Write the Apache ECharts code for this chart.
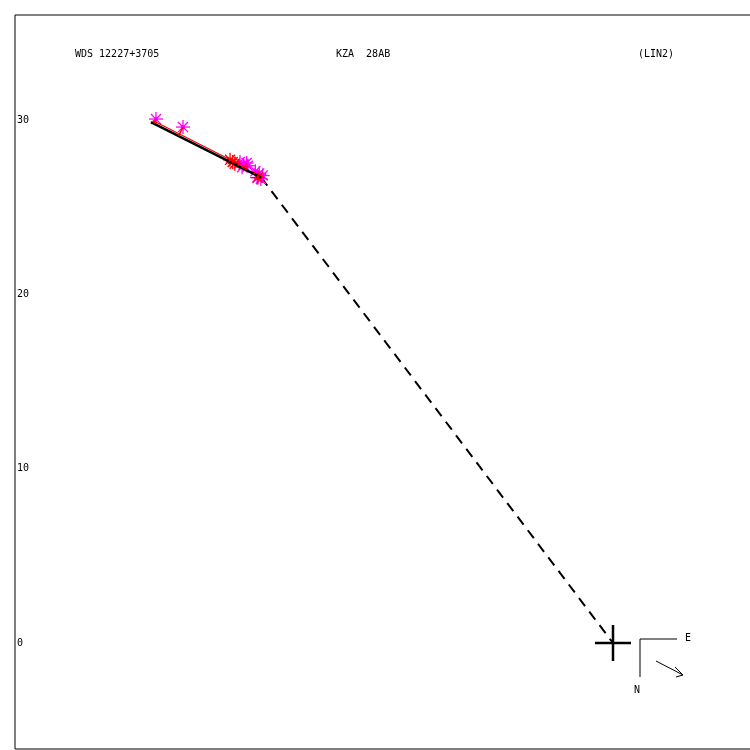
<!DOCTYPE html>
<html>
<head>
<meta charset="utf-8">
<script src="https://cdn.jsdelivr.net/npm/echarts@6/dist/echarts.min.js"></script>
<style>
html,body{margin:0;padding:0;background:#fff;}
#chart{width:750px;height:750px;}
</style>
</head>
<body>
<div id="chart"></div>
<script>
// ---- data (offsets relative to primary, same scale on both axes) ----
const magentaX = [-26.22, -24.67, -21.40, -21.20, -21.02, -21.28, -20.95, -20.52, -20.30, -20.10, -20.42, -20.20];
const magentaY = [30.06, 29.60, 27.60, 27.44, 27.54, 27.30, 27.38, 27.06, 26.94, 26.82, 26.70, 26.62];
const redX = [-21.97, -21.82, -21.70, -20.37];
const redY = [27.72, 27.60, 27.50, 26.70];
const fitX = [-26.51, -20.18];
const fitY = [29.89, 26.70];
const redPathX = [-26.40, -21.90];
const redPathY = [29.98, 27.70];
const primaryX = [0];
const primaryY = [0];
const yTickValues = [0, 10, 20, 30];
const titleLeft = 'WDS 12227+3705';
const titleMid = 'KZA  28AB';
const titleRight = '(LIN2)';

const FONT = '"DejaVu Sans Mono", monospace';
const zip = (a, b) => a.map((v, i) => [v, b[i]]);

// residuals: observation -> projection on fit line
function project(px, py) {
  const dx = fitX[1] - fitX[0], dy = fitY[1] - fitY[0];
  const t = ((px - fitX[0]) * dx + (py - fitY[0]) * dy) / (dx * dx + dy * dy);
  return [fitX[0] + t * dx, fitY[0] + t * dy];
}
const residualLines = [];
magentaX.forEach((x, i) => {
  residualLines.push([{ coord: [x, magentaY[i]] }, { coord: project(x, magentaY[i]) }]);
});
redX.forEach((x, i) => {
  residualLines.push([{ coord: [x, redY[i]] }, { coord: project(x, redY[i]) }]);
});

function asterisk(color, r) {
  return function (params, api) {
    const c = api.coord([api.value(0), api.value(1)]);
    const d = r * 0.72;
    const segs = [
      [c[0] - r, c[1], c[0] + r, c[1]],
      [c[0], c[1] - r, c[0], c[1] + r],
      [c[0] - d, c[1] - d, c[0] + d, c[1] + d],
      [c[0] - d, c[1] + d, c[0] + d, c[1] - d]
    ];
    return {
      type: 'group',
      children: segs.map(s => ({
        type: 'line',
        shape: { x1: s[0], y1: s[1], x2: s[2], y2: s[3] },
        style: { stroke: color, lineWidth: 1.3 }
      })).concat([{ type: 'circle', shape: { cx: c[0], cy: c[1], r: 2 }, style: { fill: color } }])
    };
  };
}

const chart = echarts.init(document.getElementById('chart'), null, { renderer: 'canvas' });
const PX = 17.43;
const gridLeft = 15, gridTop = 15, gridW = 740, gridH = 734;
const originPx = [613, 643];
const xMin = -(originPx[0] - gridLeft) / PX;
const xMax = xMin + gridW / PX;
const yMax = (originPx[1] - gridTop) / PX;
const yMin = yMax - gridH / PX;

chart.setOption({
  animation: false,
  backgroundColor: '#fff',
  grid: { left: gridLeft, top: gridTop, width: gridW, height: gridH, outerBoundsMode: 'none', containLabel: false, show: true, borderColor: '#000', borderWidth: 1, backgroundColor: 'transparent' },
  xAxis: {
    type: 'value', min: xMin, max: xMax,
    axisLine: { show: false }, axisTick: { show: false }, axisLabel: { show: false }, splitLine: { show: false }
  },
  yAxis: {
    type: 'value', min: yMin, max: yMax,
    axisLine: { show: false }, axisTick: { show: false }, splitLine: { show: false },
    axisLabel: {
      inside: true, margin: 2, customValues: yTickValues,
      color: '#000', fontFamily: FONT, fontSize: 10
    }
  },
  series: [
    {
      type: 'line', data: zip(fitX, fitY), symbol: 'none',
      lineStyle: { color: '#000', width: 2.5 }, z: 4
    },
    {
      type: 'line', data: zip(redPathX, redPathY), symbol: 'none',
      lineStyle: { color: '#ff0000', width: 1.2 }, z: 3
    },
    {
      type: 'line', data: [[fitX[1], fitY[1]], [primaryX[0], primaryY[0]]], symbol: 'none',
      lineStyle: { color: '#000', width: 2, type: [10, 7] }, z: 2
    },
    {
      type: 'custom', data: zip(magentaX, magentaY), renderItem: asterisk('#ff00ff', 7), z: 3,
      markLine: { symbol: 'none', silent: true, lineStyle: { color: '#ff0000', width: 1.5, type: 'solid' }, label: { show: false }, data: residualLines }
    },
    {
      type: 'custom', data: zip(redX, redY), renderItem: asterisk('#ff0000', 7), z: 3
    },
    {
      type: 'scatter', data: zip(primaryX, primaryY), symbol: 'path://M-1.25,-18 h2.5 v36 h-2.5 z M-18,-1.25 h36 v2.5 h-36 z',
      symbolSize: [36, 36], itemStyle: { color: '#000', opacity: 1 }, z: 5
    }
  ],
  graphic: [
    { type: 'text', left: 75, top: 49, style: { text: titleLeft, font: '10px ' + FONT, fill: '#000' } },
    { type: 'text', left: 336, top: 49, style: { text: titleMid, font: '10px ' + FONT, fill: '#000' } },
    { type: 'text', left: 638, top: 49, style: { text: titleRight, font: '10px ' + FONT, fill: '#000' } },
    { type: 'polyline', shape: { points: [[677, 639], [640, 639], [640, 677]] }, style: { stroke: '#000', lineWidth: 1, fill: null } },
    { type: 'text', left: 685, top: 633, style: { text: 'E', font: '10px ' + FONT, fill: '#000' } },
    { type: 'text', left: 634, top: 685, style: { text: 'N', font: '10px ' + FONT, fill: '#000' } },
    { type: 'line', shape: { x1: 656, y1: 661, x2: 683, y2: 675 }, style: { stroke: '#000', lineWidth: 1 } },
    { type: 'polyline', shape: { points: [[675, 667], [683, 675], [676, 677]] }, style: { stroke: '#000', lineWidth: 1, fill: null } }
  ]
});
</script>
</body>
</html>
